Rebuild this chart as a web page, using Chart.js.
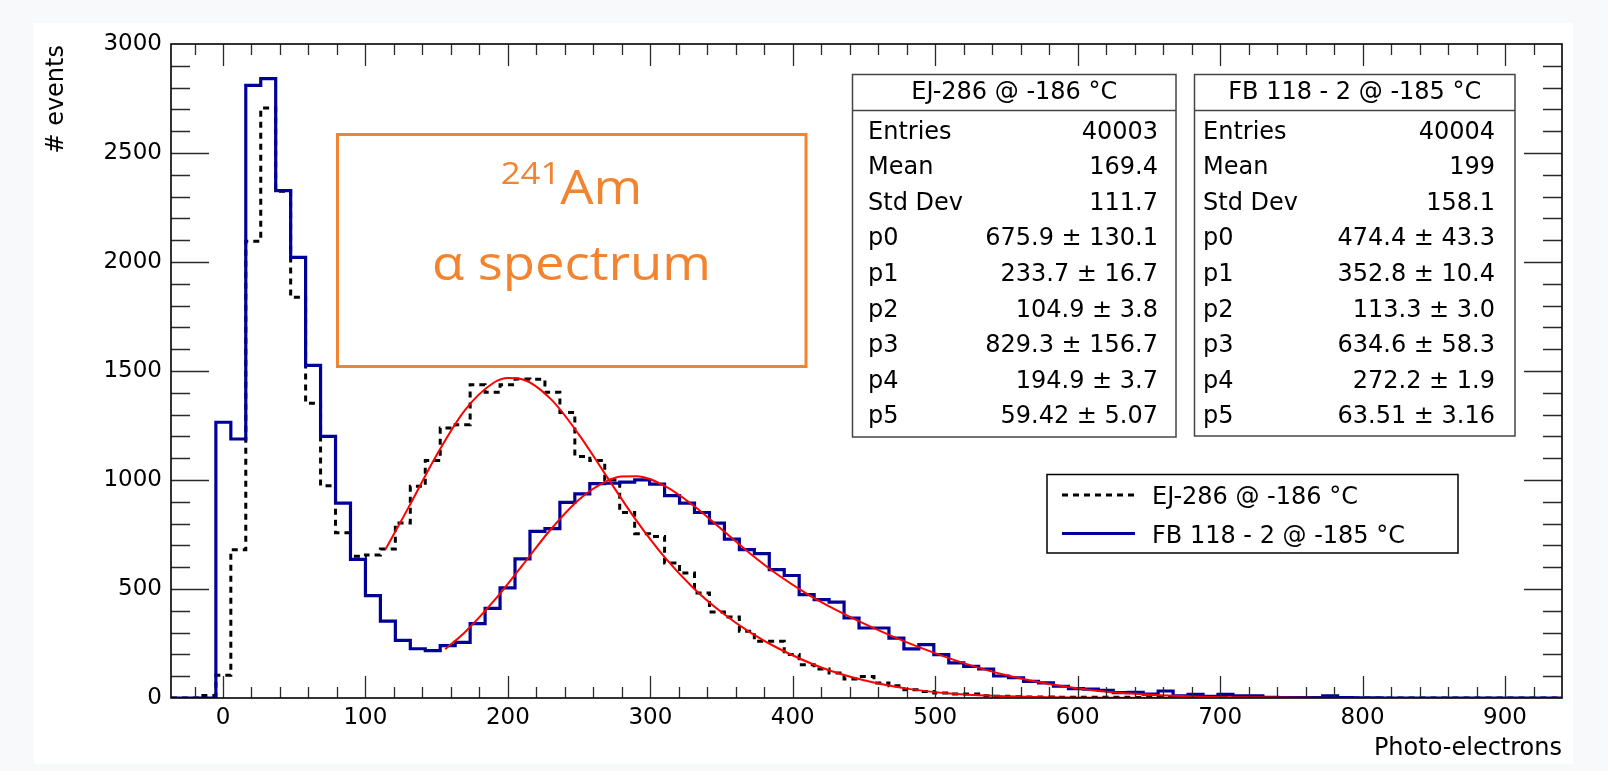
<!DOCTYPE html>
<html>
<head>
<meta charset="utf-8">
<script src="https://cdn.jsdelivr.net/npm/chart.js@4.4.1/dist/chart.umd.min.js"></script>
<style>
  html, body { margin: 0; padding: 0; background: #f8f9fb; }
  #wrap { width: 1608px; height: 771px; position: relative; }
  canvas { display: block; }
</style>
</head>
<body>
<div id="wrap"><canvas id="c" width="1608" height="771"></canvas></div>
<script>
// ---------------- DATA ----------------
const BIN_LOW = -36.5;
const BIN_WIDTH = 10.5;

// FB 118 - 2 @ -185 °C (blue, solid) counts per bin
const fbCounts = [
  0, 0, 0, 1265, 1188, 2810, 2841, 2327, 2021, 1526,
  1200, 894, 636, 470, 353, 264, 226, 217, 240, 255,
  341, 411, 505, 638, 764, 777, 897, 936, 983, 985,
  990, 1001, 981, 928, 894, 851, 802, 729, 681, 662,
  589, 562, 474, 451, 440, 367, 321, 321, 275, 225,
  245, 199, 161, 145, 133, 101, 93, 76, 69, 54,
  43, 41, 35, 25, 26, 18, 32, 10, 17, 8,
  17, 10, 10, 3, 2, 2, 2, 10, 2, 1,
  1, 0, 0, 0, 0, 0, 0, 0, 0, 0,
  0, 0, 0
];

// EJ-286 @ -186 °C (black, dotted) counts per bin
const ejCounts = [
  0, 0, 12, 104, 680, 2095, 2706, 2325, 1838, 1352,
  974, 758, 650, 656, 683, 803, 971, 1089, 1239, 1254,
  1437, 1402, 1437, 1463, 1462, 1402, 1310, 1108, 1089, 1000,
  851, 754, 741, 619, 573, 482, 395, 372, 306, 260,
  260, 199, 153, 133, 115, 87, 99, 69, 56, 38,
  30, 23, 18, 18, 10, 8, 6, 5, 5, 4,
  3, 4, 3, 3, 2, 2, 3, 1, 3, 3,
  2, 2, 2, 0, 0, 0, 0, 0, 0, 0,
  0, 0, 0, 0, 0, 0, 0, 0, 0, 0,
  0, 0, 0
];

// Fit curves (red)
const fitEJ_x = [114, 130, 150, 170, 190, 200, 210, 230, 250, 270, 290, 310, 330, 350, 370, 390, 420, 450, 480, 510, 540, 580, 620, 700, 800, 940];
const fitEJ_y = [681, 871, 1115, 1322, 1446, 1468, 1462, 1372, 1207, 1010, 816, 646, 506, 393, 301, 227, 140, 81, 43, 21, 10, 3, 1, 0, 0, 0];

const fitFB_x = [156, 170, 190, 210, 230, 250, 270, 280, 290, 310, 330, 350, 370, 390, 410, 430, 450, 470, 490, 520, 550, 580, 610, 640, 680, 720, 780, 860, 940];
const fitFB_y = [224, 303, 444, 607, 773, 911, 997, 1016, 1017, 973, 884, 774, 663, 563, 478, 405, 341, 283, 230, 160, 104, 64, 36, 19, 7, 3, 0, 0, 0];

// Axis ticks
const xMinorTicks = [-20,0,20,40,60,80,100,120,140,160,180,200,220,240,260,280,300,320,340,360,380,400,420,440,460,480,500,520,540,560,580,600,620,640,660,680,700,720,740,760,780,800,820,840,860,880,900,920];
const xLabelTicks = [0,100,200,300,400,500,600,700,800,900];
const yMinorTicks = [100,200,300,400,500,600,700,800,900,1000,1100,1200,1300,1400,1500,1600,1700,1800,1900,2000,2100,2200,2300,2400,2500,2600,2700,2800,2900];
const yLabelTicks = [0,500,1000,1500,2000,2500,3000];

// Texts
const seriesNames = ['EJ-286 @ -186 °C', 'FB 118 - 2 @ -185 °C'];
const statLabels = ['Entries', 'Mean', 'Std Dev', 'p0', 'p1', 'p2', 'p3', 'p4', 'p5'];
const statsEJ = ['40003', '169.4', '111.7', '675.9 ± 130.1', '233.7 ± 16.7', '104.9 ± 3.8', '829.3 ± 156.7', '194.9 ± 3.7', '59.42 ± 5.07'];
const statsFB = ['40004', '199', '158.1', '474.4 ± 43.3', '352.8 ± 10.4', '113.3 ± 3.0', '634.6 ± 58.3', '272.2 ± 1.9', '63.51 ± 3.16'];
const xTitle = 'Photo-electrons';
const yTitle = '# events';
const noteIsotope = '241';
const noteElement = 'Am';
const noteLine2 = 'α spectrum';

// ---------------- BUILD ----------------
// Points at left bin edges (+ closing right edge); stepped 'before' keeps counts[i] over [edge_i, edge_i+1]
function histPoints(counts) {
  const pts = [];
  for (let i = 0; i < counts.length; i++) {
    pts.push({ x: BIN_LOW + BIN_WIDTH * i, y: counts[i] });
  }
  pts.push({ x: BIN_LOW + BIN_WIDTH * counts.length, y: counts[counts.length - 1] });
  return pts;
}
function zipXY(xs, ys) { return xs.map((x, i) => ({ x: x, y: ys[i] })); }

const FONT = '"DejaVu Sans", "Liberation Sans", sans-serif';
const BLUE = '#000099';
const ORANGE = '#F28430';

const rootPlugin = {
  id: 'rootStyle',
  beforeDraw(chart) {
    const ctx = chart.ctx;
    ctx.save();
    ctx.fillStyle = '#f8f9fb';
    ctx.fillRect(0, 0, chart.width, chart.height);
    ctx.fillStyle = '#ffffff';
    ctx.fillRect(34, 23, 1539, 741);
    ctx.restore();
  },
  afterDatasetsDraw(chart) {
    const ctx = chart.ctx;
    const a = chart.chartArea;
    const xs = chart.scales.x, ys = chart.scales.y;
    ctx.save();
    // ticks (inward, ROOT style)
    ctx.strokeStyle = '#2a2a2a';
    ctx.lineWidth = 1.3;
    ctx.beginPath();
    xMinorTicks.forEach(v => {
      const px = Math.round(xs.getPixelForValue(v)) + 0.5;
      const len = (v % 100 === 0) ? 22 : 11;
      ctx.moveTo(px, a.bottom); ctx.lineTo(px, a.bottom - len);
      ctx.moveTo(px, a.top); ctx.lineTo(px, a.top + len);
    });
    yMinorTicks.forEach(v => {
      const py = Math.round(ys.getPixelForValue(v)) + 0.5;
      const len = (v % 500 === 0) ? 38 : 19;
      ctx.moveTo(a.left, py); ctx.lineTo(a.left + len, py);
      ctx.moveTo(a.right, py); ctx.lineTo(a.right - len, py);
    });
    ctx.stroke();
    // frame
    ctx.strokeStyle = '#000';
    ctx.lineWidth = 1.6;
    ctx.strokeRect(a.left, a.top, a.right - a.left, a.bottom - a.top);

    // axis titles
    ctx.fillStyle = '#000';
    ctx.font = '24px ' + FONT;
    ctx.textAlign = 'right';
    ctx.textBaseline = 'alphabetic';
    ctx.fillText(xTitle, a.right, 755);
    ctx.save();
    ctx.translate(63, a.top + 1);
    ctx.rotate(-Math.PI / 2);
    ctx.textAlign = 'right';
    ctx.fillText(yTitle, 0, 0);
    ctx.restore();

    // stats boxes
    function statsBox(x0, x1, y0, y1, title, labels, values, lx, rx) {
      ctx.fillStyle = '#fff';
      ctx.fillRect(x0, y0, x1 - x0, y1 - y0);
      ctx.strokeStyle = '#444';
      ctx.lineWidth = 1.5;
      ctx.strokeRect(x0, y0, x1 - x0, y1 - y0);
      ctx.beginPath();
      ctx.moveTo(x0, 110.5); ctx.lineTo(x1, 110.5);
      ctx.stroke();
      ctx.fillStyle = '#000';
      ctx.font = '24px ' + FONT;
      ctx.textBaseline = 'alphabetic';
      ctx.textAlign = 'center';
      ctx.fillText(title, (x0 + x1) / 2, 98.5);
      for (let i = 0; i < labels.length; i++) {
        const by = 138.5 + 35.6 * i;
        ctx.textAlign = 'left';
        ctx.fillText(labels[i], lx, by);
        ctx.textAlign = 'right';
        ctx.fillText(values[i], rx, by);
      }
    }
    statsBox(852.5, 1176, 74.5, 437, seriesNames[0], statLabels, statsEJ, 868, 1158);
    statsBox(1194.5, 1515, 74.5, 436, seriesNames[1], statLabels, statsFB, 1203, 1495);

    // legend
    ctx.fillStyle = '#fff';
    ctx.fillRect(1047, 474.5, 411, 78.5);
    ctx.strokeStyle = '#000';
    ctx.lineWidth = 1.5;
    ctx.strokeRect(1047, 474.5, 411, 78.5);
    ctx.lineWidth = 3;
    ctx.strokeStyle = '#000';
    ctx.setLineDash([6, 5]);
    ctx.beginPath(); ctx.moveTo(1062, 495); ctx.lineTo(1135, 495); ctx.stroke();
    ctx.setLineDash([]);
    ctx.strokeStyle = BLUE;
    ctx.beginPath(); ctx.moveTo(1062, 533.5); ctx.lineTo(1135, 533.5); ctx.stroke();
    ctx.fillStyle = '#000';
    ctx.font = '24px ' + FONT;
    ctx.textAlign = 'left';
    ctx.fillText(seriesNames[0], 1152, 504);
    ctx.fillText(seriesNames[1], 1152, 542.5);

    // annotation box
    ctx.strokeStyle = ORANGE;
    ctx.lineWidth = 3;
    ctx.strokeRect(337.5, 134.5, 468.5, 232);
    ctx.fillStyle = ORANGE;
    const cx = 571.5;
    const sx = 1.12;
    ctx.save();
    ctx.translate(cx, 0);
    ctx.scale(sx, 1);
    ctx.font = '31px "Open Sans", sans-serif';
    const wSup = ctx.measureText(noteIsotope).width;
    ctx.font = '47px "Open Sans", sans-serif';
    const wEl = ctx.measureText(noteElement).width;
    const start = -(wSup + wEl) / 2;
    ctx.textAlign = 'left';
    ctx.font = '31px "Open Sans", sans-serif';
    ctx.fillText(noteIsotope, start, 183.5);
    ctx.font = '47px "Open Sans", sans-serif';
    ctx.fillText(noteElement, start + wSup, 203.5);
    ctx.textAlign = 'center';
    ctx.fillText(noteLine2, 0, 280);
    ctx.restore();

    ctx.restore();
  }
};

const ctx = document.getElementById('c').getContext('2d');
new Chart(ctx, {
  type: 'line',
  data: {
    datasets: [
      { label: 'fit EJ', data: zipXY(fitEJ_x, fitEJ_y), borderColor: '#ff0000', borderWidth: 2,
        pointRadius: 0, fill: false, cubicInterpolationMode: 'monotone', order: 0 },
      { label: 'fit FB', data: zipXY(fitFB_x, fitFB_y), borderColor: '#ff0000', borderWidth: 2,
        pointRadius: 0, fill: false, cubicInterpolationMode: 'monotone', order: 1 },
      { label: seriesNames[1], data: histPoints(fbCounts), stepped: 'before', borderColor: BLUE,
        borderWidth: 3.2, pointRadius: 0, fill: false, order: 2 },
      { label: seriesNames[0], data: histPoints(ejCounts), stepped: 'before', borderColor: '#000',
        borderDash: [6, 5], borderWidth: 3, pointRadius: 0, fill: false, order: 3 }
    ]
  },
  options: {
    responsive: false,
    animation: false,
    events: [],
    layout: { padding: { left: 0, top: 44, right: 46, bottom: 0 } },
    scales: {
      x: {
        type: 'linear', min: BIN_LOW, max: BIN_LOW + BIN_WIDTH * fbCounts.length,
        grid: { display: false, drawTicks: false }, border: { display: false },
        afterBuildTicks: s => { s.ticks = xLabelTicks.map(v => ({ value: v })); },
        afterFit: s => { s.height = 73; },
        ticks: { autoSkip: false, maxRotation: 0, minRotation: 0, padding: 6, color: '#000',
          font: { family: FONT, size: 23 }, callback: v => String(v) }
      },
      y: {
        type: 'linear', min: 0, max: 3000,
        grid: { display: false, drawTicks: false }, border: { display: false },
        afterBuildTicks: s => { s.ticks = yLabelTicks.map(v => ({ value: v })); },
        afterFit: s => { s.width = 171; },
        ticks: { autoSkip: false, padding: 9, color: '#000',
          font: { family: FONT, size: 23 }, callback: v => String(v) }
      }
    },
    plugins: { legend: { display: false }, tooltip: { enabled: false }, title: { display: false } }
  },
  plugins: [rootPlugin]
});
</script>
</body>
</html>
